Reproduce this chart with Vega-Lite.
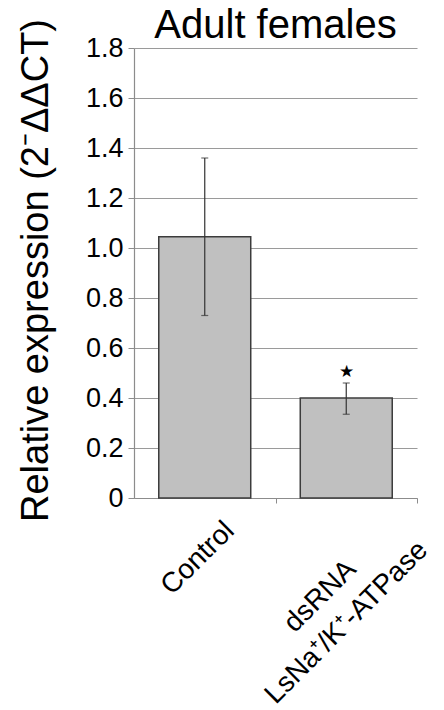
{
  "$schema": "https://vega.github.io/schema/vega-lite/v6.json",
  "autosize": "none",
  "width": 283,
  "height": 450,
  "padding": {"left": 134, "top": 48, "right": 27, "bottom": 212},
  "background": "white",
  "config": {
    "font": "Liberation Sans",
    "view": {"stroke": null}
  },
  "title": {
    "text": "Adult females",
    "fontSize": 40,
    "font": "Liberation Sans",
    "fontWeight": "normal",
    "color": "black",
    "anchor": "middle",
    "offset": -9,
    "dy": 19
  },
  "data": {
    "values": [
      {"group": "Control", "mean": 1.045, "low": 0.73, "high": 1.36, "star": null},
      {"group": "dsRNA LsNa⁺/K⁺-ATPase", "mean": 0.4, "low": 0.335, "high": 0.46, "star": 0.505}
    ]
  },
  "encoding": {
    "x": {
      "field": "group",
      "type": "nominal",
      "sort": null,
      "scale": {"paddingInner": 0, "paddingOuter": 0},
      "axis": {
        "title": null,
        "tickOffset": 70.75,
        "labelAngle": -45,
        "labelAlign": "center",
        "labelBaseline": "middle",
        "labelFontSize": 28,
        "labelColor": "black",
        "labelLineHeight": 37,
        "labelLimit": 500,
        "labelExpr": "datum.value == 'Control' ? 'Control' : ['dsRNA', 'LsNa⁺/K⁺-ATPase']",
        "labelOffset": {"condition": {"test": "datum.value == 'Control'", "value": -78}, "value": -97},
        "labelPadding": {"condition": {"test": "datum.value == 'Control'", "value": 55}, "value": 93},
        "labelFlush": false,
        "labelOverlap": false,
        "labelBound": false,
        "domainColor": "#8c8c8c",
        "domainWidth": 1.2,
        "tickColor": "#8c8c8c",
        "tickSize": 5,
        "grid": false
      }
    }
  },
  "layer": [
    {
      "mark": {"type": "bar", "width": {"band": 0.65}, "color": "#c0c0c0", "stroke": "#3c3c3c", "strokeWidth": 1.5},
      "encoding": {
        "y": {
          "field": "mean",
          "type": "quantitative",
          "scale": {"domain": [0, 1.8], "nice": false},
          "axis": {
            "values": [0, 0.2, 0.4, 0.6, 0.8, 1.0, 1.2, 1.4, 1.6, 1.8],
            "labelExpr": "datum.value == 0 ? '0' : format(datum.value, '.1f')",
            "labelFontSize": 27,
            "labelColor": "black",
            "labelPadding": 5,
            "tickSize": 6,
            "tickColor": "#8c8c8c",
            "domainColor": "#8c8c8c",
            "domainWidth": 1.2,
            "grid": true,
            "gridColor": "#9a9a9a",
            "gridWidth": 1.2,
            "title": "Relative expression (2⁻ΔΔCT)",
            "titleFontSize": 38,
            "titleFontWeight": "normal",
            "titleColor": "black",
            "titlePadding": 30,
            "titleY": 222
          }
        }
      }
    },
    {
      "mark": {"type": "rule", "color": "#333333", "strokeWidth": 1.2},
      "encoding": {
        "y": {"field": "low", "type": "quantitative"},
        "y2": {"field": "high"}
      }
    },
    {
      "mark": {"type": "tick", "color": "#333333", "size": 7, "thickness": 1.2},
      "encoding": {"y": {"field": "low", "type": "quantitative"}}
    },
    {
      "mark": {"type": "tick", "color": "#333333", "size": 7, "thickness": 1.2},
      "encoding": {"y": {"field": "high", "type": "quantitative"}}
    },
    {
      "transform": [{"filter": "datum.star != null"}],
      "mark": {"type": "text", "text": "★", "fontSize": 17, "color": "black", "baseline": "middle", "align": "center"},
      "encoding": {"y": {"field": "star", "type": "quantitative"}}
    }
  ]
}
